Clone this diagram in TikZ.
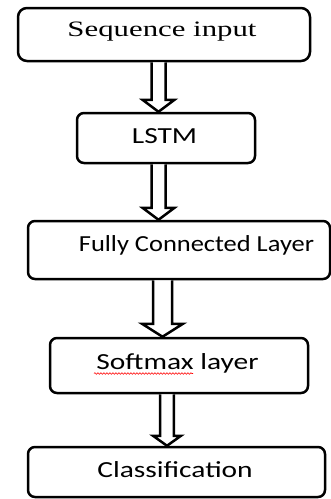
\documentclass[tikz,border=0pt]{standalone}
\usepackage{fontspec}
\newfontfamily\seqfont[FakeStretch=1.4]{Liberation Serif}
\newfontfamily\layerfont[FakeStretch=1.28]{Carlito}
\newfontfamily\fcfont[FakeStretch=1.15]{Carlito}
\usetikzlibrary{decorations.pathmorphing}

\tikzset{
  box/.style={draw, line width=2.5pt, rounded corners=7pt, inner sep=0pt},
  flow/.style={draw, fill=white, line width=2.5pt, line join=miter},
  txt/.style={anchor=base, inner sep=0pt, font=\layerfont\fontsize{23}{28}\selectfont}
}

% hollow arrow: x, shaft half width, head half width, head length, from, to
\newcommand{\blockarrow}[6]{%
  \coordinate (top) at (#1,0 |- #5.south);
  \coordinate (tip) at (#1,0 |- #6.north);
  \draw[flow] ([xshift=-#2pt]top) -- ([xshift=-#2pt,yshift=#4pt]tip)
    -- ([xshift=-#3pt,yshift=#4pt]tip) -- (tip)
    -- ([xshift=#3pt,yshift=#4pt]tip) -- ([xshift=#2pt,yshift=#4pt]tip)
    -- ([xshift=#2pt]top);
}

\begin{document}
\begin{tikzpicture}[x=1pt,y=-1pt]
  \useasboundingbox (0,0) rectangle (331,499);
  %boxes
  \node[box, rounded corners=9pt, minimum width=292pt, minimum height=53pt] (seq) at (164,34.5) {};
  \node[box, minimum width=178pt, minimum height=50pt] (lstm) at (166,138) {};
  \node[box, minimum width=302pt, minimum height=58pt] (fc) at (179,250) {};
  \node[box, minimum width=258pt, minimum height=55pt] (soft) at (179,365.5) {};
  \node[box, minimum width=297pt, minimum height=50pt] (cls) at (176.5,472) {};
  %labels
  \node[txt, font=\seqfont\fontsize{22}{26}\selectfont] (seqtxt) at (162,36) {Sequence input};
  \node[txt] (lstmtxt) at (164.5,143) {LSTM};
  \node[txt, font=\fcfont\fontsize{23}{28}\selectfont] (fctxt) at (196.5,251) {Fully Connected Layer};
  \node[txt] (softtxt) at (177.5,369) {Softmax layer};
  \node[txt] (clstxt) at (175,477.5) {Classification};
  \draw[red, line width=0.6pt, decorate, decoration={snake, amplitude=0.8pt, segment length=3pt}] (94,373.5) -- (193,373.5);
  %arrows
  \blockarrow{158.5}{7}{16}{12}{seq}{lstm}
  \blockarrow{158.5}{7}{16}{12}{lstm}{fc}
  \blockarrow{162.5}{9.5}{20.5}{13}{fc}{soft}
  \blockarrow{167}{6.8}{14}{10}{soft}{cls}
\end{tikzpicture}
\end{document}
